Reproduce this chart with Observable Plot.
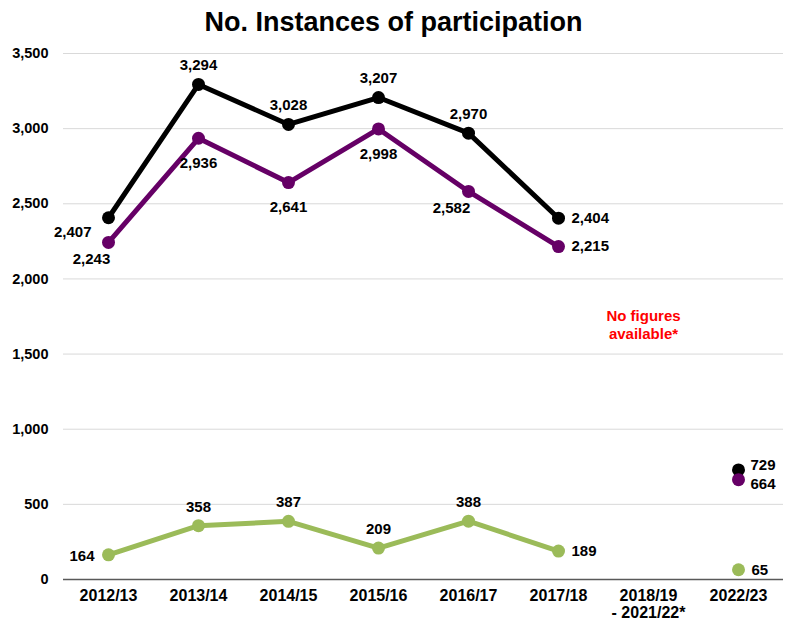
<!DOCTYPE html>
<html>
<head>
<meta charset="utf-8">
<script src="https://cdn.jsdelivr.net/npm/d3@7"></script>
<script src="https://cdn.jsdelivr.net/npm/@observablehq/plot@0.6"></script>
<style>
  body { margin: 0; background: #fff; font-family: "Liberation Sans", Arial, sans-serif; }
  #title { height: 44px; line-height: 44px; text-align: center; font-weight: bold; font-size: 27px; color: #000; width: 787px; }
  svg { font-family: "Liberation Sans", Arial, sans-serif; }
</style>
</head>
<body>
<div id="title">No. Instances of participation</div>
<div id="chart"></div>
<script>
const categories = ["2012/13","2013/14","2014/15","2015/16","2016/17","2017/18","2018/19 - 2021/22*","2022/23"];
const seriesNames = ["Total","Series B","Series C"];
const blackValues = [2407,3294,3028,3207,2970,2404,null,729];
const purpleValues = [2243,2936,2641,2998,2582,2215,null,664];
const greenValues = [164,358,387,209,388,189,null,65];
const yTicks = [0,500,1000,1500,2000,2500,3000,3500];
const noteText = "No figures\navailable*";
const noteValue = 1700;

// label placement (style)
const blackPlace = ["leftlow","top","top","top","top","right",null,"rightup"];
const purplePlace = ["belowleft","bottom","bottom","bottom","belowleft","right",null,"rightdown"];
const greenPlace = ["left","top","top","top","top","right",null,"right"];
const colors = ["#000000","#660066","#9bbb59"];

const seriesVals = [blackValues, purpleValues, greenValues];
const seriesPlace = [blackPlace, purplePlace, greenPlace];
const rows = [];
seriesVals.forEach((vals, s) => {
  vals.forEach((v, i) => rows.push({series: seriesNames[s], cat: categories[i], value: v, place: seriesPlace[s][i], color: colors[s]}));
});

const placements = {
  left: {textAnchor: "end", dx: -14, dy: 1},
  leftlow: {textAnchor: "end", dx: -17, dy: 14},
  belowleft: {textAnchor: "middle", dx: -17, dy: 17},
  top: {textAnchor: "middle", dx: 0, dy: -19},
  bottom: {textAnchor: "middle", dx: 0, dy: 25},
  right: {textAnchor: "start", dx: 13, dy: 0},
  rightup: {textAnchor: "start", dx: 12, dy: -5},
  rightdown: {textAnchor: "start", dx: 12, dy: 4}
};
const fmt = d3.format(",");

const labelMarks = Object.entries(placements).map(([k, p]) =>
  Plot.text(rows.filter(d => d.place === k && d.value != null), {
    x: "cat", y: "value", text: d => fmt(d.value),
    textAnchor: p.textAnchor, dx: p.dx, dy: p.dy,
    fontSize: 15, fontWeight: "bold", fill: "#000"
  })
);

const chart = Plot.plot({
  width: 787,
  height: 578,
  marginLeft: 63,
  marginRight: 4,
  marginTop: 9,
  marginBottom: 43,
  style: {fontSize: "14px", fontFamily: "Liberation Sans, Arial, sans-serif", background: "#fff", color: "#000"},
  x: {type: "point", domain: categories, padding: 0.5},
  y: {domain: [0, 3500]},
  marks: [
    Plot.gridY(yTicks, {stroke: "#d9d9d9", strokeOpacity: 1}),
    Plot.axisY(yTicks, {tickSize: 0, tickPadding: 15, tickFormat: fmt, fontWeight: "bold", fontSize: 14.5, fill: "#000", label: null}),
    Plot.axisX({tickSize: 0, tickPadding: 10, fontWeight: "bold", fontSize: 16, lineHeight: 1.05, fill: "#000", label: null,
      tickFormat: d => d.replace(" - ", "\n- ")}),
    Plot.ruleY([0], {stroke: "#595959", strokeWidth: 1.5}),
    ...seriesNames.map((s, i) => Plot.line(rows.filter(d => d.series === s), {
      x: "cat", y: "value", stroke: colors[i], strokeWidth: 5, strokeLinejoin: "round"
    })),
    ...seriesNames.map((s, i) => Plot.dot(rows.filter(d => d.series === s && d.value != null), {
      x: "cat", y: "value", fill: colors[i], r: 6.5
    })),
    ...labelMarks,
    Plot.text([noteText], {x: () => categories[6], y: () => noteValue, text: d => d, dx: -5, fill: "#ff0000", fontWeight: "bold", fontSize: 15, lineHeight: 1.2})
  ]
});
document.getElementById("chart").appendChild(chart);
</script>
</body>
</html>
